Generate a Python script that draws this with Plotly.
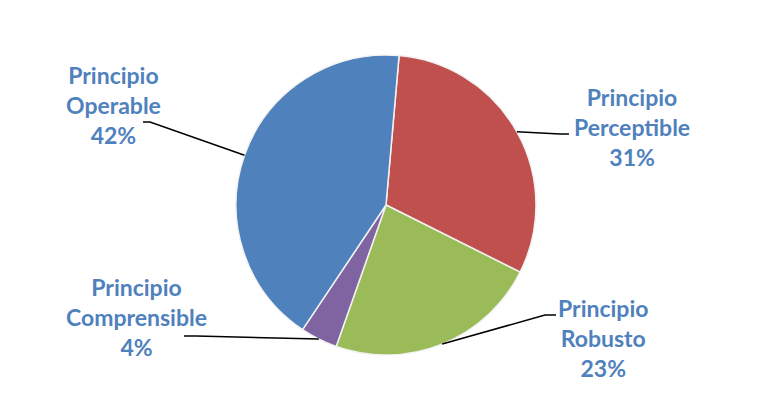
import math
import plotly.graph_objects as go

# ---- data ----
labels = ["Principio Perceptible", "Principio Robusto", "Principio Comprensible", "Principio Operable"]
values = [31, 23, 4, 42]
colors = ["#C0504D", "#9BBB59", "#8064A2", "#4F81BD"]

# ---- layout constants (pixels) ----
W, H = 759, 396
OFF = 8  # browser body margin
CX, CY, R = 386, 205, 150
ROT = 5  # degrees clockwise from 12 o'clock

# label centre positions and leader elbows/ends (pixels in the screenshot)
label_pos = [(632, 127), (603, 338), (136, 317), (113, 105)]
elbows = [(560, 134), (545, 315), (196, 336), (150, 122)]
ends = [(569, 134), (556, 315), (184, 336), (143, 122)]

def px(x):
    return (x - OFF) / W

def py(y):
    return 1 - (y - OFF) / H

fig = go.Figure(go.Pie(
    labels=labels, values=values, sort=False, direction="clockwise",
    rotation=ROT, textinfo="none", hoverinfo="label+percent",
    marker=dict(colors=colors, line=dict(color="#f2f2f2", width=1.5)),
    domain=dict(x=[px(CX - R), px(CX + R)], y=[py(CY + R), py(CY - R)]),
    showlegend=False,
))

total = sum(values)
cum = 0
shapes = []
annotations = []
for i, (lab, v) in enumerate(zip(labels, values)):
    mid = ROT + (cum + v / 2) / total * 360
    cum += v
    a = math.radians(mid)
    sx, sy = CX + R * math.sin(a), CY - R * math.cos(a)
    ex, ey = elbows[i]
    tx, ty = ends[i]
    shapes.append(dict(type="path", xref="paper", yref="paper",
                       path=f"M {px(sx)} {py(sy)} L {px(ex)} {py(ey)} L {px(tx)} {py(ty)}",
                       line=dict(color="black", width=1.5)))
    name = lab.split(" ", 1)
    pct = round(v / total * 100)
    annotations.append(dict(
        x=px(label_pos[i][0]), y=py(label_pos[i][1]), xref="paper", yref="paper",
        text=f"{name[0]}<br>{name[1]}<br>{pct}%", showarrow=False, align="center",
        xanchor="center", yanchor="middle",
        font=dict(family="Lato", size=23, color="#4F81BD", weight="bold")))

fig.update_layout(width=W, height=H, margin=dict(l=0, r=0, t=0, b=0),
                  paper_bgcolor="white", plot_bgcolor="white",
                  shapes=shapes, annotations=annotations)
fig.write_html("out.html")
